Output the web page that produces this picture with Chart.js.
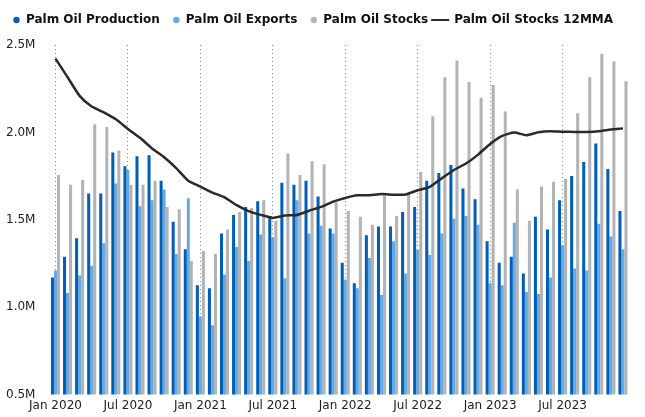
<!DOCTYPE html>
<html lang="en">
<head>
    <meta charset="UTF-8">
    <title>Palm Oil</title>
    <script src="https://cdn.jsdelivr.net/npm/chart.js"></script>
    <style>
        body {
            margin: 0;
            background: #fff;
        }
        #chartContainer {
            width: 645px;
            height: 417px;
        }
    </style>
</head>
<body>
    <div id="chartContainer">
        <canvas id="palmChart"></canvas>
    </div>
    <script>
        // values in million tonnes, Jan 2020 - Dec 2023
        const months = ['Jan', 'Feb', 'Mar', 'Apr', 'May', 'Jun', 'Jul', 'Aug', 'Sep', 'Oct', 'Nov', 'Dec'];
        const years = [2020, 2021, 2022, 2023];
        const categories = [];
        years.forEach(y => months.forEach(m => categories.push(m + ' ' + y)));

        const production = [1.17, 1.288, 1.394, 1.651, 1.651, 1.885, 1.807, 1.863, 1.869, 1.723, 1.489, 1.332,
            1.126, 1.109, 1.422, 1.528, 1.573, 1.606, 1.522, 1.712, 1.70, 1.723, 1.634, 1.450,
            1.254, 1.137, 1.411, 1.461, 1.461, 1.545, 1.573, 1.723, 1.768, 1.813, 1.679, 1.617,
            1.377, 1.254, 1.288, 1.193, 1.517, 1.444, 1.612, 1.751, 1.830, 1.936, 1.791, 1.550];
        const exports = [1.21, 1.081, 1.182, 1.237, 1.366, 1.707, 1.785, 1.578, 1.612, 1.673, 1.304, 1.623,
            0.947, 0.897, 1.187, 1.344, 1.265, 1.416, 1.399, 1.165, 1.612, 1.422, 1.466, 1.422,
            1.159, 1.109, 1.282, 1.070, 1.377, 1.193, 1.327, 1.299, 1.422, 1.506, 1.522, 1.472,
            1.137, 1.126, 1.483, 1.087, 1.075, 1.17, 1.355, 1.221, 1.21, 1.478, 1.405, 1.332];
        const stocks = [1.757, 1.70, 1.729, 2.047, 2.031, 1.897, 1.70, 1.70, 1.723, 1.573, 1.561, 1.265,
            1.321, 1.304, 1.444, 1.545, 1.567, 1.612, 1.494, 1.88, 1.757, 1.835, 1.818, 1.601,
            1.550, 1.517, 1.472, 1.640, 1.522, 1.645, 1.774, 2.092, 2.316, 2.411, 2.288, 2.198,
            2.271, 2.120, 1.673, 1.494, 1.690, 1.718, 1.735, 2.109, 2.316, 2.45, 2.405, 2.293];
        const stocks12mma = [2.422, 2.316, 2.209, 2.148, 2.115, 2.075, 2.02, 1.969, 1.908, 1.858, 1.796, 1.723,
            1.69, 1.656, 1.628, 1.584, 1.55, 1.528, 1.511, 1.524, 1.528, 1.552, 1.574, 1.604,
            1.625, 1.640, 1.641, 1.647, 1.644, 1.645, 1.669, 1.688, 1.738, 1.785, 1.822, 1.873,
            1.934, 1.980, 1.999, 1.984, 2.001, 2.007, 2.004, 2.003, 2.003, 2.007, 2.016, 2.023];

        const darkBlue = '#005eb4';
        const lightBlue = '#66a8e2';
        const grey = '#b3b3b3';
        const lineColor = '#2a2a2a';

        // small canvases used as legend markers
        function dotMarker(color) {
            const c = document.createElement('canvas');
            c.width = 12; c.height = 8;
            const g = c.getContext('2d');
            g.fillStyle = color;
            g.beginPath();
            g.arc(8.5, 4, 3.2, 0, Math.PI * 2);
            g.fill();
            return c;
        }
        function lineMarker(color) {
            const c = document.createElement('canvas');
            c.width = 24; c.height = 4;
            const g = c.getContext('2d');
            g.strokeStyle = color;
            g.lineWidth = 2;
            g.beginPath();
            g.moveTo(1, 2);
            g.lineTo(19, 2);
            g.stroke();
            return c;
        }

        const isTick = label => label.startsWith('Jan') || label.startsWith('Jul');

        // a bit more room under the legend
        const legendGap = {
            id: 'legendGap',
            beforeInit(chart) {
                const fit = chart.legend.fit;
                chart.legend.fit = function() {
                    fit.bind(chart.legend)();
                    this.height += 9;
                };
            }
        };

        new Chart(document.getElementById('palmChart'), {
            type: 'bar',
            data: {
                labels: categories,
                datasets: [
                    {
                        label: 'Palm Oil Production',
                        data: production,
                        backgroundColor: darkBlue,
                        pointStyle: dotMarker(darkBlue),
                        order: 1
                    },
                    {
                        label: 'Palm Oil Exports',
                        data: exports,
                        backgroundColor: lightBlue,
                        pointStyle: dotMarker(lightBlue),
                        order: 1
                    },
                    {
                        label: 'Palm Oil Stocks',
                        data: stocks,
                        backgroundColor: grey,
                        pointStyle: dotMarker(grey),
                        order: 1
                    },
                    {
                        type: 'line',
                        label: 'Palm Oil Stocks 12MMA',
                        data: stocks12mma,
                        borderColor: lineColor,
                        backgroundColor: lineColor,
                        borderWidth: 2.5,
                        pointRadius: 0,
                        pointStyle: lineMarker(lineColor),
                        tension: 0.2,
                        order: 0
                    }
                ]
            },
            plugins: [legendGap],
            options: {
                responsive: true,
                maintainAspectRatio: false,
                animation: false,
                layout: {
                    padding: { left: 0, right: 16, top: 6, bottom: 0 }
                },
                datasets: {
                    bar: {
                        barPercentage: 1.0,
                        categoryPercentage: 0.75
                    }
                },
                plugins: {
                    tooltip: { enabled: false },
                    legend: {
                        position: 'top',
                        align: 'start',
                        labels: {
                            usePointStyle: true,
                            boxWidth: 12,
                            boxHeight: 8,
                            padding: 8,
                            color: '#111',
                            font: { family: 'DejaVu Sans', size: 12, weight: 'bold' },
                            sort: (a, b) => a.datasetIndex - b.datasetIndex
                        }
                    }
                },
                scales: {
                    x: {
                        offset: true,
                        grid: {
                            offset: false,
                            drawTicks: false,
                            lineWidth: 1,
                            color: ctx => (ctx.tick && isTick(categories[ctx.index])) ? '#8c8c8c' : 'transparent'
                        },
                        border: { display: false, dash: [1, 3] },
                        ticks: {
                            autoSkip: false,
                            maxRotation: 0,
                            padding: 4,
                            color: '#222',
                            font: { family: 'DejaVu Sans', size: 12 },
                            callback: function(value, index) {
                                const label = categories[index];
                                return isTick(label) ? label : '';
                            }
                        }
                    },
                    y: {
                        min: 0.5,
                        max: 2.5,
                        grid: { display: false },
                        border: { display: false },
                        ticks: {
                            stepSize: 0.5,
                            padding: 6,
                            color: '#222',
                            font: { family: 'DejaVu Sans', size: 12 },
                            callback: value => value.toFixed(1) + 'M'
                        }
                    }
                }
            }
        });
    </script>
</body>
</html>
